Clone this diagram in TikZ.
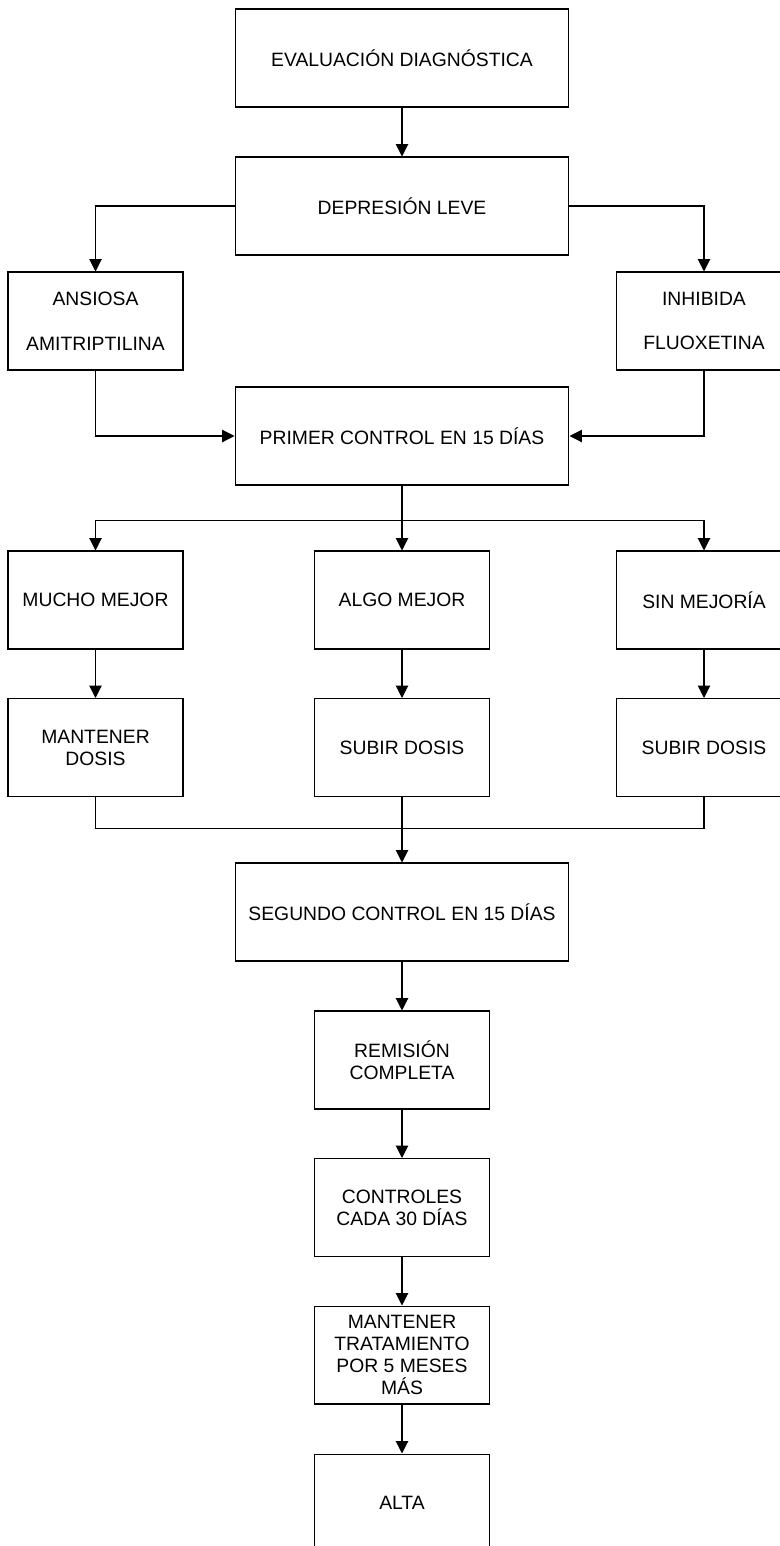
\documentclass[tikz,border=0pt]{standalone}
\usepackage{fontspec}
\setmainfont{Liberation Sans}
\usetikzlibrary{arrows.meta,positioning,calc}
\tikzset{>={Triangle[length=7pt,width=7pt]}}
\tikzset{caja/.style={draw, line width=0.6pt, minimum width=6.68cm, minimum height=1.96cm, align=center, inner sep=1pt, font=\fontsize{11}{12.5}\selectfont},
	cajita/.style={caja, minimum width=3.5cm}}

\begin{document}
\begin{tikzpicture}[x=0.02cm, y=-0.02cm, line width=0.6pt]
		\useasboundingbox (0,0) rectangle (780,1546);
		% columna central
		\node[caja] (eval) at (402,58) {EVALUACIÓN DIAGNÓSTICA};
		\node[caja] (dep) at (402,206) {DEPRESIÓN LEVE};
		\node[cajita] (ans) at (95.5,321) {ANSIOSA\\[13pt]AMITRIPTILINA};
		\node[cajita] (inh) at (704,321) {INHIBIDA\\[13pt]FLUOXETINA};
		\node[caja] (prim) at (402,436) {PRIMER CONTROL EN 15 DÍAS};
		% respuesta
		\node[cajita] (mucho) at (95.5,600) {MUCHO MEJOR};
		\node[cajita] (algo) at (402,600) {ALGO MEJOR};
		\node[cajita] (sin) at (704,600) {SIN MEJORÍA};
		\node[cajita] (mant) at (95.5,747.5) {MANTENER\\DOSIS};
		\node[cajita] (sub1) at (402,747.5) {SUBIR DOSIS};
		\node[cajita] (sub2) at (704,747.5) {SUBIR DOSIS};
		\node[caja] (seg) at (402,912) {SEGUNDO CONTROL EN 15 DÍAS};
		% final
		\node[cajita] (rem) at (402,1060) {REMISIÓN\\COMPLETA};
		\node[cajita] (ctrl) at (402,1207.5) {CONTROLES\\CADA 30 DÍAS};
		\node[cajita] (mtto) at (402,1355) {MANTENER\\TRATAMIENTO\\POR 5 MESES\\MÁS};
		\node[cajita] (alta) at (402,1503) {ALTA};

		\draw[->] (eval) -- (dep);
		\draw[->] (dep.west) -| (ans.north);
		\draw[->] (dep.east) -| (inh.north);
		\draw[->] (ans.south) |- (prim.west);
		\draw[->] (inh.south) |- (prim.east);
		\draw[->] (prim) -- (algo);
		\draw[->] (prim.south) -- ++(0,35) -| (mucho.north);
		\draw[->] (prim.south) -- ++(0,35) -| (sin.north);
		\draw[->] (mucho) -- (mant);
		\draw[->] (algo) -- (sub1);
		\draw[->] (sin) -- (sub2);
		\draw (mant.south) -- ++(0,31) -| (sub2.south);
		\draw[->] (sub1) -- (seg);
		\draw[->] (seg) -- (rem);
		\draw[->] (rem) -- (ctrl);
		\draw[->] (ctrl) -- (mtto);
		\draw[->] (mtto) -- (alta);
	\end{tikzpicture}
\end{document}
